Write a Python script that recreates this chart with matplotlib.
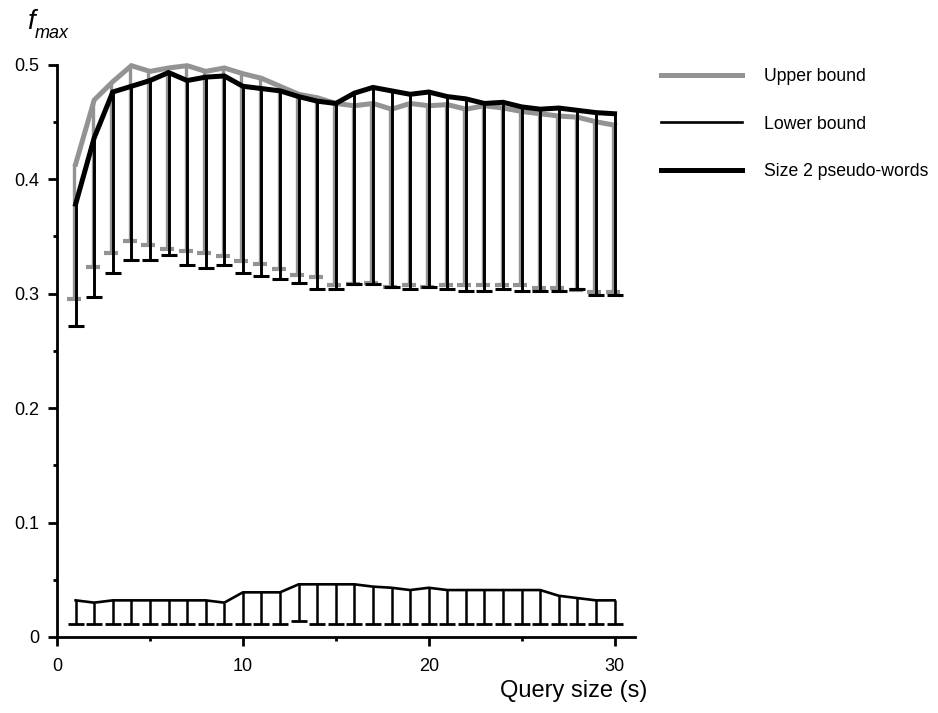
import matplotlib
matplotlib.use('Agg')
import matplotlib.pyplot as plt
import matplotlib.transforms as mtransforms
import numpy as np

plt.rcParams['font.family'] = ['Liberation Sans', 'DejaVu Sans']

# query size s = 1..30
query_size = list(range(1, 31))

# upper bound (grey) and the bottom of its error bars
upper = [0.413, 0.469, 0.485, 0.499, 0.494, 0.497, 0.499, 0.494, 0.497, 0.492,
         0.488, 0.481, 0.474, 0.471, 0.466, 0.464, 0.466, 0.461, 0.466, 0.464,
         0.465, 0.461, 0.464, 0.462, 0.459, 0.457, 0.455, 0.454, 0.450, 0.447]
upper_low = [0.295, 0.323, 0.335, 0.346, 0.342, 0.339, 0.337, 0.335, 0.333, 0.328,
             0.326, 0.321, 0.316, 0.314, 0.307, 0.308, 0.309, 0.306, 0.307, 0.306,
             0.307, 0.307, 0.307, 0.307, 0.307, 0.305, 0.305, 0.303, 0.301, 0.301]

# size 2 pseudo-words (thick black)
pseudo = [0.378, 0.436, 0.476, 0.481, 0.486, 0.493, 0.486, 0.489, 0.490, 0.481,
          0.479, 0.477, 0.472, 0.468, 0.466, 0.475, 0.480, 0.477, 0.474, 0.476,
          0.472, 0.470, 0.466, 0.467, 0.463, 0.461, 0.462, 0.460, 0.458, 0.457]
pseudo_low = [0.272, 0.297, 0.318, 0.329, 0.329, 0.334, 0.325, 0.322, 0.325, 0.318,
              0.315, 0.313, 0.309, 0.304, 0.304, 0.308, 0.308, 0.306, 0.304, 0.306,
              0.304, 0.302, 0.302, 0.304, 0.302, 0.302, 0.302, 0.304, 0.299, 0.299]

# lower bound (thin black)
lower = [0.032, 0.030, 0.032, 0.032, 0.032, 0.032, 0.032, 0.032, 0.030, 0.039,
         0.039, 0.039, 0.046, 0.046, 0.046, 0.046, 0.044, 0.043, 0.041, 0.043,
         0.041, 0.041, 0.041, 0.041, 0.041, 0.041, 0.036, 0.034, 0.032, 0.032]
lower_low = [0.011, 0.011, 0.011, 0.011, 0.011, 0.011, 0.011, 0.011, 0.011, 0.011,
             0.011, 0.011, 0.014, 0.011, 0.011, 0.011, 0.011, 0.011, 0.011, 0.011,
             0.011, 0.011, 0.011, 0.011, 0.011, 0.011, 0.011, 0.011, 0.011, 0.011]

grey = '#939393'

fig = plt.figure(figsize=(9.38, 7.13), dpi=100)
ax = fig.add_axes([0.0608, 0.1066, 0.6162, 0.8029])

# grey bars are shifted a hair to the left so both sets stay visible
shift = mtransforms.offset_copy(ax.transData, fig=fig, x=-1.5, y=0, units='dots')

# upper bound with its error bars
ax.vlines(query_size, upper_low, upper, colors=grey, linewidth=2.4, transform=shift, zorder=2)
ax.plot(query_size, upper_low, ls='none', marker='_', ms=9.5, mew=3.0, color=grey,
        transform=shift, zorder=2)
ax.plot(query_size, upper, color=grey, lw=3.6, label='Upper bound', clip_on=False,
        solid_joinstyle='miter', zorder=3)

# lower bound
ax.vlines(query_size, lower_low, lower, colors='black', linewidth=1.8, zorder=4)
ax.plot(query_size, lower_low, ls='none', marker='_', ms=11, mew=2.0, color='black', zorder=4)
ax.plot(query_size, lower, color='black', lw=1.9, label='Lower bound', zorder=4)

# pseudo-words
ax.vlines(query_size, pseudo_low, pseudo, colors='black', linewidth=2.1, zorder=4)
ax.plot(query_size, pseudo_low, ls='none', marker='_', ms=11.5, mew=2.2, color='black', zorder=4)
ax.plot(query_size, pseudo, color='black', lw=3.6, label='Size 2 pseudo-words',
        clip_on=False, solid_joinstyle='miter', zorder=5)

ax.set_xlim(0, 31.1)
ax.set_ylim(0, 0.5)
ax.set_xticks([0, 10, 20, 30])
ax.set_xticks([5, 15, 25], minor=True)
ax.set_yticks([0, 0.1, 0.2, 0.3, 0.4, 0.5])
ax.set_yticklabels(['0', '0.1', '0.2', '0.3', '0.4', '0.5'])
ax.set_yticks([0.05, 0.15, 0.25, 0.35, 0.45], minor=True)

for side in ['top', 'right']:
    ax.spines[side].set_visible(False)
for side in ['left', 'bottom']:
    ax.spines[side].set_linewidth(2.0)
ax.tick_params(which='major', direction='out', length=6.5, width=2.0, labelsize=13)
ax.tick_params(axis='x', which='major', pad=8.5)
ax.tick_params(axis='y', which='major', pad=6.5)
ax.tick_params(which='minor', direction='out', length=3, width=2.0)

ax.set_xlabel('Query size (s)', fontsize=17, loc='right', labelpad=6)
ax.xaxis.set_label_coords(1.022, -0.075)

# y-axis label: italic f with an italic "max" set lower
fig.text(27 / 938, 1 - 29 / 713, 'f', fontsize=20, style='italic', ha='left', va='baseline')
fig.text(35 / 938, 1 - 38 / 713, 'max', fontsize=13, style='italic', ha='left', va='baseline')

fig.legend(loc='upper left', bbox_to_anchor=(0.705, 0.905), frameon=False,
           fontsize=12.7, handlelength=4.6, handletextpad=1.25, labelspacing=1.75,
           borderpad=0, borderaxespad=0)

fig.savefig('out.png', dpi=100)
